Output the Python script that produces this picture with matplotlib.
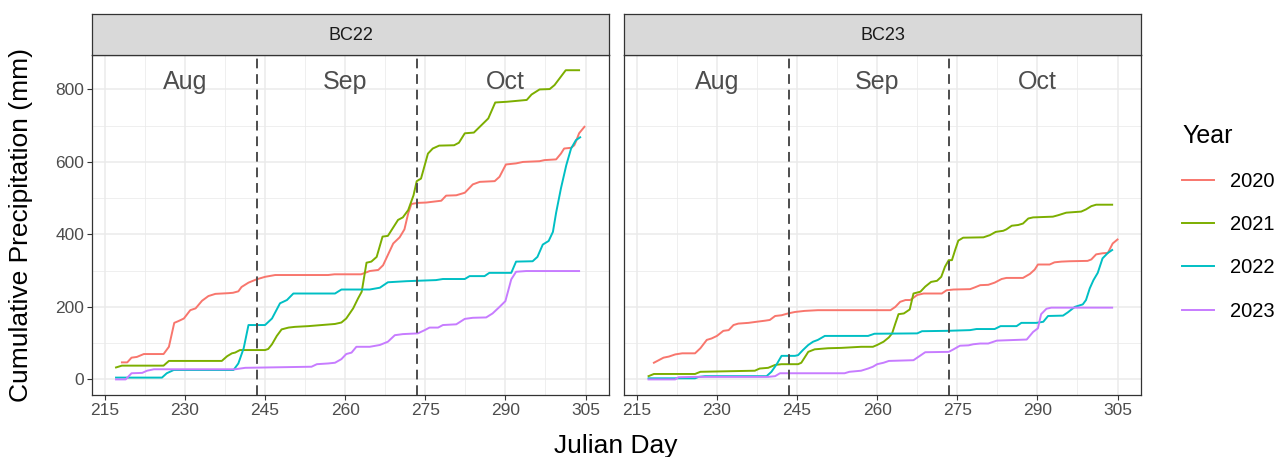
import matplotlib
matplotlib.use("Agg")
import matplotlib.pyplot as plt
from matplotlib.lines import Line2D
from matplotlib.ticker import FixedLocator

plt.rcParams['font.family'] = ['Liberation Sans', 'DejaVu Sans']

# Cumulative precipitation (mm) by Julian day, site BC22
bc22_2020_day = [218.2, 219.2, 220.0, 221.0, 222.3, 226.0, 227.0, 228.0, 228.8, 229.8, 231.0, 232.0, 233.2,
                 234.4, 235.7, 238.2, 239.0, 240.0, 240.6, 241.9, 243.4, 245.0, 246.9, 250.6, 256.8, 258.0,
                 263.0, 264.6, 266.2, 267.1, 269.0, 270.2, 271.1, 271.8, 272.4, 273.6, 275.2, 278.0, 278.9,
                 280.8, 282.4, 283.9, 285.2, 288.0, 288.9, 290.1, 292.0, 293.3, 296.4, 297.3, 299.5, 300.4,
                 301.0, 302.3, 302.9, 303.2, 303.8, 304.8]
bc22_2020_mm = [47, 47, 60, 62, 70, 70, 90, 156, 161, 168, 191, 196, 217,
                230, 236, 238, 239, 243, 255, 267, 276, 283, 288, 288, 288, 290,
                290, 299, 302, 315, 375, 392, 414, 458, 484, 487, 488, 493, 507,
                508, 515, 538, 545, 547, 559, 593, 596, 600, 602, 605, 607, 623,
                637, 639, 646, 656, 679, 697]

bc22_2021_day = [217.1, 218.2, 226.0, 227.0, 236.9, 237.9, 238.8, 239.4, 240.3, 245.0, 245.6, 246.3, 247.2,
                 248.1, 249.4, 250.6, 253.1, 255.6, 258.1, 259.3, 260.2, 261.5, 262.4, 263.1, 264.0, 264.9,
                 265.9, 267.0, 268.0, 269.9, 270.8, 271.8, 272.8, 273.4, 274.2, 275.5, 276.4, 277.6, 280.4,
                 281.3, 282.4, 284.1, 286.8, 288.1, 290.3, 294.0, 294.9, 296.4, 298.3, 299.2, 301.3, 303.8]
bc22_2021_mm = [33, 38, 38, 51, 51, 64, 72, 74, 81, 81, 84, 97, 120,
                138, 143, 145, 147, 150, 153, 157, 168, 196, 223, 242, 322, 325,
                338, 394, 396, 440, 447, 467, 508, 547, 554, 623, 637, 645, 646,
                653, 679, 681, 720, 764, 766, 771, 786, 800, 801, 812, 853, 853]

bc22_2022_day = [217.1, 225.7, 226.6, 227.9, 239.1, 240.0, 241.0, 241.9, 245.0, 246.3, 247.8, 249.1, 250.3,
                 258.1, 259.3, 264.6, 266.5, 268.0, 271.5, 277.0, 278.3, 282.4, 283.3, 286.1, 287.0, 291.1,
                 292.0, 295.1, 296.0, 297.0, 298.1, 298.9, 299.5, 300.4, 301.4, 302.3, 303.2, 304.0]
bc22_2022_mm = [5, 5, 17, 26, 26, 44, 86, 150, 150, 168, 210, 219, 237,
                237, 248, 248, 253, 268, 271, 274, 277, 277, 285, 285, 294, 294,
                325, 326, 338, 372, 382, 407, 460, 527, 591, 637, 660, 668]

bc22_2023_day = [217.1, 218.9, 220.0, 222.0, 222.9, 224.2, 239.4, 241.3, 253.7, 254.7, 256.8, 258.1, 259.3,
                 260.2, 261.2, 262.1, 264.6, 266.5, 268.0, 269.3, 270.8, 273.6, 274.9, 275.8, 277.4, 278.3,
                 280.8, 282.4, 283.9, 286.4, 287.6, 288.9, 290.0, 291.1, 292.0, 293.9, 303.8]
bc22_2023_mm = [0, 0, 17, 18, 24, 28, 28, 32, 35, 42, 44, 46, 56,
                70, 74, 90, 90, 95, 104, 122, 125, 127, 136, 143, 143, 150,
                152, 167, 170, 171, 182, 200, 216, 276, 297, 299, 299]

# Site BC23
bc23_2020_day = [218.2, 219.1, 220.0, 221.0, 222.2, 223.5, 225.9, 226.9, 228.1, 229.0, 230.0, 231.2, 232.2,
                 233.1, 234.0, 235.9, 237.4, 239.0, 239.9, 240.9, 242.1, 243.3, 244.6, 246.4, 248.9, 262.5,
                 263.4, 264.3, 265.3, 266.2, 267.5, 268.7, 272.1, 273.0, 274.3, 277.4, 278.3, 279.3, 280.8,
                 282.0, 283.3, 284.2, 287.3, 288.6, 289.5, 290.1, 292.3, 293.2, 294.5, 296.0, 299.4, 300.1,
                 301.0, 302.2, 303.2, 304.1, 305.0]
bc23_2020_mm = [46, 53, 60, 63, 69, 72, 72, 86, 109, 113, 120, 134, 136,
                150, 154, 156, 159, 162, 164, 175, 177, 182, 186, 189, 191, 191,
                200, 214, 219, 219, 233, 237, 237, 246, 248, 249, 254, 260, 261,
                267, 277, 280, 280, 291, 303, 317, 317, 323, 325, 326, 327, 331,
                345, 348, 349, 375, 386]

bc23_2021_day = [217.2, 218.2, 225.9, 226.9, 237.1, 238.0, 239.6, 240.9, 242.1, 245.2, 245.8, 247.1, 248.3,
                 250.8, 253.3, 257.0, 259.2, 260.0, 261.2, 262.2, 262.8, 263.4, 264.0, 265.0, 266.1, 266.8,
                 268.1, 269.0, 270.1, 271.2, 272.0, 272.7, 273.4, 274.0, 274.6, 275.2, 276.1, 279.9, 281.1,
                 282.2, 283.6, 284.2, 285.2, 286.4, 287.3, 288.3, 289.2, 292.9, 293.9, 295.4, 298.2, 299.1,
                 300.1, 301.0, 304.0]
bc23_2021_mm = [9, 15, 15, 21, 24, 30, 32, 40, 42, 42, 46, 76, 83,
                86, 87, 90, 90, 95, 104, 116, 127, 154, 180, 182, 193, 237,
                242, 256, 269, 272, 283, 311, 329, 329, 357, 383, 391, 392, 398,
                407, 410, 414, 424, 426, 430, 444, 447, 449, 453, 460, 463, 469,
                478, 482, 482]

bc23_2022_day = [217.2, 225.9, 226.6, 227.8, 239.3, 240.2, 241.2, 242.1, 244.6, 245.2, 246.1, 247.1, 248.0,
                 248.9, 250.2, 258.3, 259.5, 267.5, 268.4, 273.0, 277.4, 278.6, 282.0, 283.1, 286.1, 287.0,
                 289.8, 291.1, 292.0, 294.8, 295.7, 297.0, 298.5, 299.1, 299.8, 300.5, 301.3, 302.2, 303.2,
                 304.0]
bc23_2022_mm = [3, 3, 7, 9, 9, 21, 42, 65, 65, 67, 81, 95, 104,
                109, 120, 120, 126, 127, 133, 134, 136, 139, 139, 147, 147, 156,
                156, 159, 175, 176, 185, 200, 207, 219, 251, 274, 294, 334, 349,
                357]

bc23_2023_day = [217.2, 222.2, 222.8, 225.9, 239.6, 240.9, 241.8, 253.9, 254.8, 257.0, 258.3, 259.2, 260.0,
                 261.2, 262.2, 266.8, 267.8, 269.0, 273.4, 274.3, 275.5, 277.1, 278.0, 279.3, 280.8, 282.4,
                 284.2, 288.0, 289.2, 290.1, 290.7, 291.7, 292.6, 304.0]
bc23_2023_mm = [0, 0, 6, 7, 7, 9, 17, 17, 21, 24, 30, 35, 42,
                46, 51, 53, 63, 75, 76, 83, 93, 94, 97, 99, 99, 107,
                108, 110, 131, 141, 180, 195, 198, 198]

sites = ['BC22', 'BC23']
years = ['2020', '2021', '2022', '2023']
month_names = ['Aug', 'Sep', 'Oct']
month_label_days = [230, 260, 290]
month_breaks = [243.5, 273.5]
x_breaks = [215, 230, 245, 260, 275, 290, 305]

series = {
    'BC22': [(bc22_2020_day, bc22_2020_mm), (bc22_2021_day, bc22_2021_mm),
             (bc22_2022_day, bc22_2022_mm), (bc22_2023_day, bc22_2023_mm)],
    'BC23': [(bc23_2020_day, bc23_2020_mm), (bc23_2021_day, bc23_2021_mm),
             (bc23_2022_day, bc23_2022_mm), (bc23_2023_day, bc23_2023_mm)],
}
colores = ['#F8766D', '#7CAE00', '#00BFC4', '#C77CFF']

W, H = 1287, 457
fig = plt.figure(figsize=(W / 100, H / 100), dpi=100)

panel_left = [92, 624]
panel_w = 517
top, bottom = 55, 395
strip_top = 14

for i, site in enumerate(sites):
    x0 = panel_left[i]
    ax = fig.add_axes([x0 / W, 1 - bottom / H, panel_w / W, (bottom - top) / H])
    strip = fig.add_axes([x0 / W, 1 - top / H, panel_w / W, (top - strip_top) / H])

    # panel background and grid
    ax.set_xlim(212.6, 309.4)
    ax.set_ylim(-43, 895)
    ax.xaxis.set_major_locator(FixedLocator(x_breaks))
    ax.xaxis.set_minor_locator(FixedLocator([b + 7.5 for b in x_breaks[:-1]]))
    ax.yaxis.set_major_locator(FixedLocator([0, 200, 400, 600, 800]))
    ax.yaxis.set_minor_locator(FixedLocator([100, 300, 500, 700]))
    ax.grid(which='major', color='#EBEBEB', linewidth=1.1, zorder=0)
    ax.grid(which='minor', color='#EBEBEB', linewidth=0.55, zorder=0)
    ax.set_axisbelow(True)
    for sp in ax.spines.values():
        sp.set_color('#333333')
        sp.set_linewidth(0.9)
    ax.tick_params(which='major', length=3.5, width=0.8, color='#333333',
                   labelsize=12.5, labelcolor='#4D4D4D', pad=2)
    ax.tick_params(which='minor', length=0)
    if i > 0:
        ax.tick_params(axis='y', which='major', length=0, labelleft=False)

    # cumulative lines per year
    for (dias, mm), color in zip(series[site], colores):
        ax.plot(dias, mm, color=color, linewidth=1.4, zorder=2)

    # month boundaries and names
    for b in month_breaks:
        ax.axvline(b, color='#4D4D4D', linewidth=1.4, linestyle=(0, (5, 3)), zorder=3)
    for d, name in zip(month_label_days, month_names):
        ax.text(d, 820, name, ha='center', va='center', fontsize=18, color='#4D4D4D')

    # facet strip
    strip.set_facecolor('#D9D9D9')
    strip.set_xticks([])
    strip.set_yticks([])
    for sp in strip.spines.values():
        sp.set_color('#333333')
        sp.set_linewidth(0.9)
    strip.text(0.5, 0.48, site, ha='center', va='center', fontsize=13, color='#1A1A1A',
               transform=strip.transAxes)

fig.text(616 / W, 1 - 446 / H, 'Julian Day', ha='center', va='center', fontsize=19)
fig.text(21 / W, 1 - 225 / H, 'Cumulative Precipitation (mm)', ha='center', va='center',
         rotation=90, fontsize=19)

# legend
handles = [Line2D([], [], color=c, linewidth=1.4) for c in colores]
leg = fig.legend(handles, years, title='Year', loc='upper left',
                 bbox_to_anchor=(1182 / W, 1 - 124 / H), frameon=False,
                 fontsize=14.5, title_fontsize=18, handlelength=1.6,
                 handletextpad=0.8, labelspacing=1.2, borderpad=0, borderaxespad=0,
                 alignment='left')

fig.savefig('out.png', dpi=100)
